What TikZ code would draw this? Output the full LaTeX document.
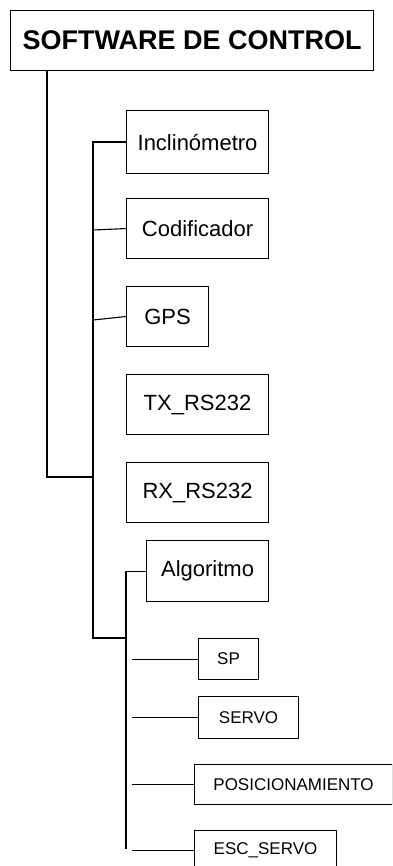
\documentclass[tikz,border=0pt]{standalone}
\usepackage{fontspec}
\setmainfont{Liberation Sans}
\usepackage{tikz}
\usetikzlibrary{positioning,calc}
\tikzset{
  box/.style={draw=black,fill=white,line width=1.1pt,anchor=north west,inner sep=0pt,
    minimum width=142pt,minimum height=60pt,font=\fontsize{22}{24}\selectfont},
  title/.style={box,minimum width=363pt,font=\fontsize{27}{30}\selectfont\bfseries},
  leaf/.style={box,minimum height=41pt,font=\fontsize{17}{19}\selectfont},
  link/.style={draw=black,line width=1.1pt},
}
\begin{document}
\begin{tikzpicture}[x=1pt,y=-1pt]
  \useasboundingbox (0,0) rectangle (392,866);
  \clip (0,0) rectangle (392,866);
  \node[title] (ctrl) at (10,10) {SOFTWARE DE CONTROL};
  \node[box,minimum height=63pt] (incl) at (126,110) {Inclinómetro};
  \node[box] (codif) at (126,198) {Codificador};
  \node[box,minimum width=82pt] (gps) at (126,286) {GPS};
  \node[box] (tx) at (126,374) {TX\_RS232};
  \node[box] (rx) at (126,462) {RX\_RS232};
  \node[box,minimum width=122pt,minimum height=61pt] (algo) at (146,540) {Algoritmo};
  \node[leaf,minimum width=60pt] (sp) at (198,638) {SP};
  \node[leaf,minimum width=100pt,minimum height=42pt] (servo) at (198,696) {SERVO};
  \node[leaf,minimum width=198pt,minimum height=40pt] (posic) at (194,764) {POSICIONAMIENTO};
  \node[leaf,minimum width=142pt,minimum height=40pt] (esc) at (194,830) {ESC\_SERVO};
  % trunks
  \coordinate (trunk) at (47,477);
  \coordinate (bus) at (93,638);
  \coordinate (sub) at (126,849);
  \coordinate (tap) at (132,0);
  \draw[link] (ctrl.south -| trunk) -- (trunk) -- (trunk -| bus);
  \draw[link] (incl.west) -| (bus) -- (bus -| sub);
  \draw[link] (algo.west) -| (sub);
  % branches
  \draw[link] (93,230) -- (codif.west);
  \draw[link] (93,320) -- (gps.west);
  \foreach \n in {sp,servo,posic,esc}
    \draw[link] (\n.west -| tap) -- (\n.west);
\end{tikzpicture}
\end{document}
